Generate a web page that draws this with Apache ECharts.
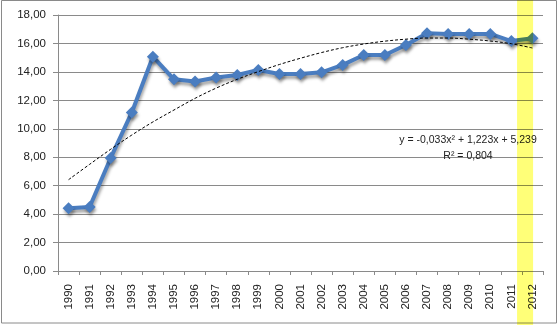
<!DOCTYPE html>
<html>
<head>
<meta charset="utf-8">
<script src="https://cdn.jsdelivr.net/npm/echarts@6/dist/echarts.min.js"></script>
<style>
  html, body { margin: 0; padding: 0; background: #fff; }
  #chart { width: 558px; height: 325px; }
</style>
</head>
<body>
<div id="chart"></div>
<script>
// Years on the category axis
const years = ['1990','1991','1992','1993','1994','1995','1996','1997','1998','1999','2000',
               '2001','2002','2003','2004','2005','2006','2007','2008','2009','2010','2011','2012'];

// Annual values
const values = [4.41, 4.50, 7.95, 11.15, 15.07, 13.48, 13.32, 13.60, 13.78, 14.13, 13.85,
                13.85, 13.97, 14.49, 15.19, 15.19, 15.89, 16.71, 16.67, 16.67, 16.67, 16.17, 16.36];

// Polynomial (order 2) trend values per year
const trend = [6.42, 7.50, 8.56, 9.56, 10.48, 11.32, 12.14, 12.86, 13.48, 14.02, 14.52,
               14.96, 15.36, 15.70, 15.96, 16.16, 16.30, 16.38, 16.38, 16.30, 16.17, 15.98, 15.68];

// Trend equation and fit quality
const trendLabel = ['y = -0,033x² + 1,223x + 5,239', 'R² = 0,804'];

// Highlighted year
const highlightYear = '2012';

const FONT = '"Liberation Sans", Arial, sans-serif';
const GRID_COLOR = '#8a8a8a';

const chart = echarts.init(document.getElementById('chart'), null, { renderer: 'canvas' });

chart.setOption({
  backgroundColor: '#ffffff',
  animation: false,
  grid: { left: 58, right: 15, top: 15, bottom: 54 },
  xAxis: {
    type: 'category',
    data: years,
    boundaryGap: true,
    axisLine: { show: true, lineStyle: { color: GRID_COLOR, width: 1 } },
    axisTick: { show: true, interval: 0, length: 4, lineStyle: { color: GRID_COLOR } },
    axisLabel: {
      interval: 0, rotate: 90, margin: 13,
      fontFamily: FONT, fontSize: 11.5, color: '#222'
    },
    splitLine: { show: false }
  },
  yAxis: {
    type: 'value',
    min: 0, max: 18, interval: 2,
    axisLine: { show: true, lineStyle: { color: GRID_COLOR, width: 1 } },
    axisTick: { show: true, length: 5, lineStyle: { color: GRID_COLOR } },
    axisLabel: {
      margin: 12,
      fontFamily: FONT, fontSize: 11.5, color: '#222',
      formatter: v => v.toFixed(2).replace('.', ',')
    },
    splitLine: { show: true, lineStyle: { color: GRID_COLOR, width: 1 } }
  },
  series: [
    {
      name: 'values',
      type: 'line',
      data: values,
      z: 3,
      symbol: 'diamond',
      symbolSize: [12, 12],
      lineStyle: {
        color: '#4a7dc0', width: 4,
        shadowColor: 'rgba(0,0,0,0.35)', shadowBlur: 3, shadowOffsetX: 1, shadowOffsetY: 3
      },
      itemStyle: {
        color: '#4a7dc0',
        shadowColor: 'rgba(0,0,0,0.35)', shadowBlur: 3, shadowOffsetX: 1, shadowOffsetY: 3
      }
    },
    {
      name: 'trend',
      type: 'line',
      data: trend,
      z: 4,
      smooth: 0.35,
      symbol: 'none',
      lineStyle: { color: '#000', width: 1, type: [3, 2] }
    }
  ],
  graphic: [
    {
      type: 'rect',
      z: -10,
      shape: { x: 1.5, y: 0.5, width: 555, height: 322.5 },
      style: { fill: null, stroke: GRID_COLOR, lineWidth: 1 }
    },
    {
      type: 'text',
      z: 10,
      x: 468, y: 148,
      style: {
        text: trendLabel.join('\n'),
        fontFamily: FONT, fontSize: 10.5, fill: '#222',
        align: 'center', verticalAlign: 'middle', lineHeight: 16
      }
    }
  ]
});

// Highlight band over the chosen year, placed from the axis scale
const idx = years.indexOf(highlightYear);
const cx = chart.convertToPixel({ xAxisIndex: 0 }, years[idx]);
const step = cx - chart.convertToPixel({ xAxisIndex: 0 }, years[idx - 1]);
chart.setOption({
  graphic: [
    {}, {},
    {
      type: 'rect',
      z: 100,
      silent: true,
      shape: { x: cx - 0.73 * step, y: 0, width: 0.76 * step, height: 325 },
      style: { fill: '#ffff78', blend: 'multiply' }
    }
  ]
});
</script>
</body>
</html>
